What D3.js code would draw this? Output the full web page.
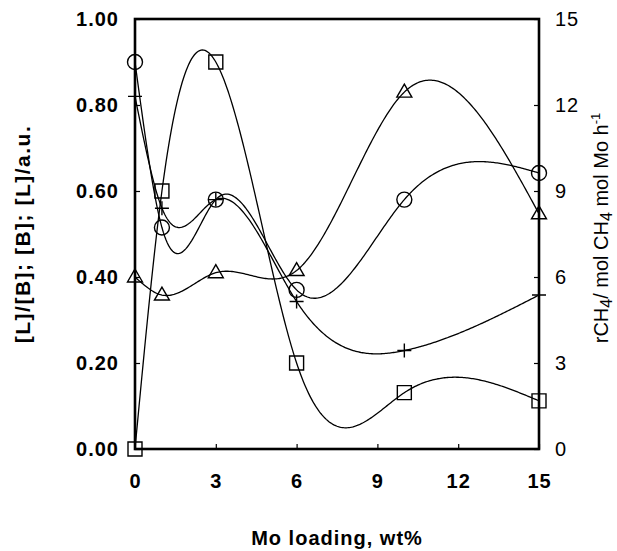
<!DOCTYPE html>
<html>
<head>
<meta charset="utf-8">
<script src="https://cdn.jsdelivr.net/npm/d3@7"></script>
<style>
  body { margin: 0; background: #fff; }
  svg { display: block; font-family: "Liberation Sans", Arial, Helvetica, sans-serif; }
</style>
</head>
<body>
<div id="chart"></div>
<script>
// values
var loading = [0, 1, 3, 6, 10, 15];
var circleVals = [0.90, 0.515, 0.58, 0.37, 0.58, 0.642];
var squareVals = [0.00, 0.60, 0.90, 0.20, 0.131, 0.112];
var triangleVals = [0.40, 0.358, 0.41, 0.415, 0.83, 0.547];
var plusVals = [0.82, 0.56, 0.58, 0.343, 0.229, 0.358];

var xTicks = [0, 3, 6, 9, 12, 15];
var leftTicks = [0, 0.2, 0.4, 0.6, 0.8, 1.0];
var rightTicks = [0, 3, 6, 9, 12, 15];

var width = 617,
    height = 551,
    margin = {top: 19, right: 78, bottom: 102, left: 135};
var w = width - margin.left - margin.right,
    h = height - margin.top - margin.bottom;

var svg = d3.select('#chart').append('svg')
    .attr('width', width)
    .attr('height', height)
  .append('g')
    .attr('transform', 'translate(' + margin.left + ',' + margin.top + ')');

var x = d3.scaleLinear().domain([0, 15]).range([0, w]);
var y = d3.scaleLinear().domain([0, 1]).range([h, 0]);
var yR = d3.scaleLinear().domain([0, 15]).range([h, 0]);

// natural cubic spline y(x) through the measured points (for drawing the smooth curves)
function naturalSpline(xs, ys) {
  var n = xs.length, hh = [], m = [], i;
  for (i = 0; i < n - 1; i++) hh[i] = xs[i + 1] - xs[i];
  var a = [], b = [], c = [], r = [];
  for (i = 1; i < n - 1; i++) {
    a[i] = hh[i - 1];
    b[i] = 2 * (hh[i - 1] + hh[i]);
    c[i] = hh[i];
    r[i] = 6 * ((ys[i + 1] - ys[i]) / hh[i] - (ys[i] - ys[i - 1]) / hh[i - 1]);
  }
  // thomas algorithm
  for (i = 2; i < n - 1; i++) {
    var k = a[i] / b[i - 1];
    b[i] = b[i] - k * c[i - 1];
    r[i] = r[i] - k * r[i - 1];
  }
  for (i = 0; i < n; i++) m[i] = 0;
  for (i = n - 2; i >= 1; i--) {
    m[i] = (r[i] - (i < n - 2 ? c[i] * m[i + 1] : 0)) / b[i];
  }
  return function(t) {
    var s = 0;
    while (s < n - 2 && t > xs[s + 1]) s++;
    var x0 = xs[s], x1 = xs[s + 1], d = hh[s];
    return m[s] * Math.pow(x1 - t, 3) / (6 * d) + m[s + 1] * Math.pow(t - x0, 3) / (6 * d)
      + (ys[s] / d - m[s] * d / 6) * (x1 - t) + (ys[s + 1] / d - m[s + 1] * d / 6) * (t - x0);
  };
}

var line = d3.line()
    .x(function(d) { return x(d[0]); })
    .y(function(d) { return y(d[1]); });

var series = [
  {name: 'circle', vals: circleVals},
  {name: 'square', vals: squareVals},
  {name: 'triangle', vals: triangleVals},
  {name: 'plus', vals: plusVals}
];

series.forEach(function(s) {
  var f = naturalSpline(loading, s.vals);
  var pts = d3.range(0, 15.001, 0.05).map(function(t) { return [t, f(t)]; });
  svg.append('path')
      .datum(pts)
      .attr('d', line)
      .attr('fill', 'none')
      .attr('stroke', '#000')
      .attr('stroke-width', 1.3);
});

// markers
function markerPath(kind) {
  if (kind == 'circle') return 'M7.5,0A7.5,7.5 0 1,1 -7.5,0A7.5,7.5 0 1,1 7.5,0Z';
  if (kind == 'square') return 'M-7,-7H7V7H-7Z';
  if (kind == 'triangle') return 'M0,-8L7.5,5H-7.5Z';
  return 'M-7,0H7M0,-7V7';
}

series.forEach(function(s) {
  svg.selectAll('.m-' + s.name)
      .data(loading.map(function(d, i) { return [d, s.vals[i]]; }))
    .enter().append('path')
      .attr('class', 'm-' + s.name)
      .attr('transform', function(d) { return 'translate(' + x(d[0]) + ',' + y(d[1]) + ')'; })
      .attr('d', markerPath(s.name))
      .attr('fill', 'none')
      .attr('stroke', '#000')
      .attr('stroke-width', 1.4);
});

// axes
var xAxis = svg.append('g')
    .attr('transform', 'translate(0,' + h + ')')
    .call(d3.axisBottom(x).tickValues(xTicks).tickSizeInner(-5).tickSizeOuter(0).tickPadding(25));
var yAxis = svg.append('g')
    .call(d3.axisLeft(y).tickValues(leftTicks).tickFormat(d3.format('.2f')).tickSizeInner(-5).tickSizeOuter(0).tickPadding(16));
var yAxisR = svg.append('g')
    .attr('transform', 'translate(' + w + ',0)')
    .call(d3.axisRight(yR).tickValues(rightTicks).tickSizeInner(-5).tickSizeOuter(0).tickPadding(16));

[xAxis, yAxis, yAxisR].forEach(function(a) {
  a.select('.domain').remove();
  a.selectAll('line').attr('stroke', '#000').attr('stroke-width', 1.2);
  a.selectAll('text')
      .attr('fill', '#000')
      .style('font-size', '20px')
      .style('font-family', '"Liberation Sans", Arial, sans-serif')
      .style('letter-spacing', '1px');
});
xAxis.selectAll('text').attr('font-weight', 'bold');
yAxis.selectAll('text').attr('font-weight', 'bold');

// frame
svg.append('rect')
    .attr('x', 0)
    .attr('y', 0)
    .attr('width', w)
    .attr('height', h)
    .attr('fill', 'none')
    .attr('stroke', '#000')
    .attr('stroke-width', 2.6);

// axis titles
svg.append('text')
    .attr('x', w / 2)
    .attr('y', h + 96)
    .attr('text-anchor', 'middle')
    .attr('font-weight', 'bold')
    .style('font-size', '20px')
    .style('letter-spacing', '1px')
    .text('Mo loading, wt%');

svg.append('text')
    .attr('transform', 'translate(' + (-105) + ',' + (h / 2) + ') rotate(-90)')
    .attr('text-anchor', 'middle')
    .attr('font-weight', 'bold')
    .style('font-size', '21px')
    .style('letter-spacing', '1.5px')
    .text('[L]/[B]; [B]; [L]/a.u.');

var rt = svg.append('text')
    .attr('transform', 'translate(' + (w + 69) + ',' + (h / 2 - 6) + ') rotate(-90)')
    .attr('text-anchor', 'middle')
    .style('font-size', '20px');
rt.append('tspan').text('rCH');
rt.append('tspan').attr('dy', 4).style('font-size', '16px').text('4');
rt.append('tspan').attr('dy', -4).text('/ mol CH');
rt.append('tspan').attr('dy', 4).style('font-size', '16px').text('4');
rt.append('tspan').attr('dy', -4).text(' mol Mo h');
rt.append('tspan').attr('dy', -8).style('font-size', '13px').text('-1');
</script>
</body>
</html>
